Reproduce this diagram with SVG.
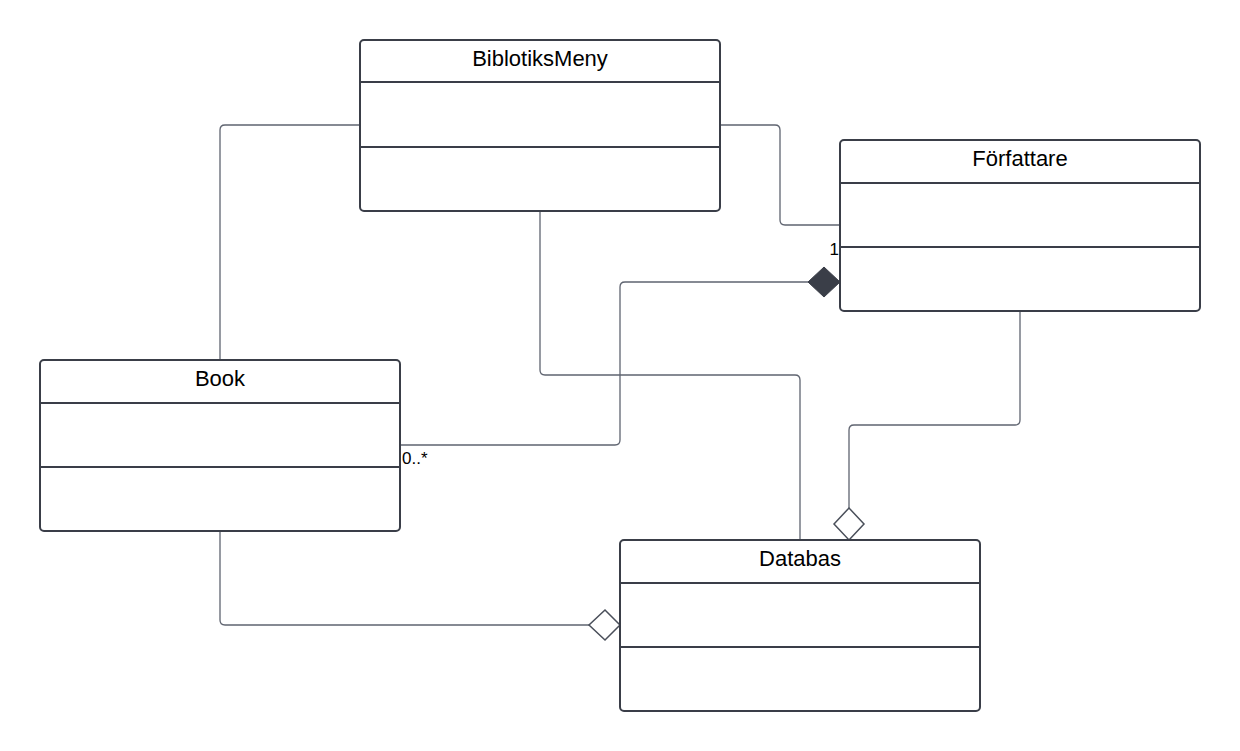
<svg xmlns="http://www.w3.org/2000/svg" width="1240" height="751" viewBox="0 0 1240 751">
<style>
.box{fill:#ffffff;stroke:#3a3e48;stroke-width:2}
.div{stroke:#3a3e48;stroke-width:2}
.title{font-family:"Liberation Sans",Arial,sans-serif;font-size:22px;fill:#000;text-anchor:middle}
.conn{fill:none;stroke:#5f6470;stroke-width:1.3}
.lbl{font-family:"Liberation Sans",Arial,sans-serif;font-size:17px;fill:#000}
.hollow{fill:#ffffff;stroke:#4a4f5a;stroke-width:1.5}
.solid{fill:#3a3e48;stroke:#3a3e48;stroke-width:1}
</style>
<rect width="1240" height="751" fill="#ffffff"/>
<g id="connectors">
<path class="conn" d="M360,125 H225 Q220,125 220,130 V360"/>
<path class="conn" d="M720,125 H775 Q780,125 780,130 V220 Q780,225 785,225 H840"/>
<path class="conn" d="M540,211 V370 Q540,375 545,375 H795 Q800,375 800,380 V540"/>
<path class="conn" d="M400,445 H615 Q620,445 620,440 V287 Q620,282 625,282 H808"/>
<polygon class="solid" points="840,282 824,267 808,282 824,297"/>
<path class="conn" d="M1020,311 V420 Q1020,425 1015,425 H854 Q849,425 849,430 V508"/>
<polygon class="hollow" points="849,540 864,524 849,508 834,524"/>
<path class="conn" d="M220,531 V620 Q220,625 225,625 H589"/>
<polygon class="hollow" points="620,625 605,610 589,625 605,640"/>
<text class="lbl" x="839" y="255" text-anchor="end">1</text>
<text class="lbl" x="402" y="464">0..*</text>
</g>
<g id="BiblotiksMeny">
<rect class="box" x="360" y="40" width="360" height="171" rx="4"/>
<line class="div" x1="360" y1="82" x2="720" y2="82"/>
<line class="div" x1="360" y1="147" x2="720" y2="147"/>
<text class="title" x="540" y="66">BiblotiksMeny</text>
</g>
<g id="Forfattare">
<rect class="box" x="840" y="140" width="360" height="171" rx="4"/>
<line class="div" x1="840" y1="183" x2="1200" y2="183"/>
<line class="div" x1="840" y1="247" x2="1200" y2="247"/>
<text class="title" x="1020" y="166">Författare</text>
</g>
<g id="Book">
<rect class="box" x="40" y="360" width="360" height="171" rx="4"/>
<line class="div" x1="40" y1="403" x2="400" y2="403"/>
<line class="div" x1="40" y1="467" x2="400" y2="467"/>
<text class="title" x="220" y="386">Book</text>
</g>
<g id="Databas">
<rect class="box" x="620" y="540" width="360" height="171" rx="4"/>
<line class="div" x1="620" y1="583" x2="980" y2="583"/>
<line class="div" x1="620" y1="647" x2="980" y2="647"/>
<text class="title" x="800" y="566">Databas</text>
</g>
</svg>
